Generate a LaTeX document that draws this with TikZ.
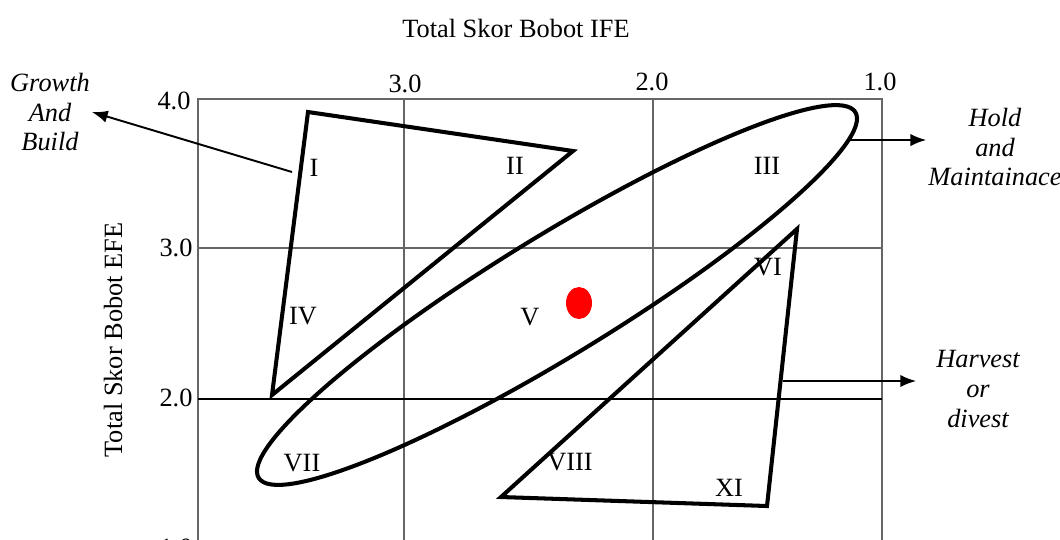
\documentclass[tikz,border=0pt]{standalone}
\usepackage{fontspec}
\setmainfont{Liberation Serif}
\usetikzlibrary{arrows.meta}

\begin{document}
\begin{tikzpicture}[x=0.02cm, y=-0.02cm,
  gridline/.style={gray!80!black, line width=0.9pt},
  zone/.style={line width=2.3pt, line join=miter},
  lbl/.style={font=\fontsize{15}{17}\selectfont},
  tag/.style={font=\fontsize{15}{17}\selectfont\itshape, align=center, inner sep=1pt},
  pointer/.style={line width=1.1pt, -{Latex[length=9pt,width=7pt]}}]

\useasboundingbox (0,0) rectangle (1060,539);

%--- GRID ---
\draw[gridline] (198,560) -- (198,99) -- (882,99) -- (882,560);
\draw[gridline] (404,99) -- (404,560);
\draw[gridline] (653,99) -- (653,560);
\draw[gridline] (198,248) -- (882,248);
\draw[line width=1.3pt] (198,399) -- (882,399);

%--- AXES ---
\node[lbl] (ife) at (516,28) {Total Skor Bobot IFE};
\node[lbl, rotate=90] (efe) at (113,340) {Total Skor Bobot EFE};
\node[lbl] (x3) at (405,84) {3.0};
\node[lbl] (x2) at (652,82) {2.0};
\node[lbl] (x1) at (880,82) {1.0};
\node[lbl] (y4) at (174,101) {4.0};
\node[lbl] (y3) at (176,248) {3.0};
\node[lbl] (y2) at (176,398) {2.0};
\node[lbl] (y1) at (176,548) {1.0};

%--- ZONES ---
% I, II, IV
\draw[zone] (308,112) -- (573,151) -- (272,395) -- cycle;
% III, V, VII
\draw[zone, rotate around={31.5:(557,295)}] (557,295) ellipse (7cm and 1.2cm);
% VI, VIII, XI
\draw[zone] (797,229) -- (767,506) -- (501,497) -- cycle;

\node[lbl] (zI) at (314,168) {I};
\node[lbl] (zII) at (515,166) {II};
\node[lbl] (zIII) at (767,166) {III};
\node[lbl] (zIV) at (303,316) {IV};
\node[lbl] (zV) at (530,317) {V};
\node[lbl] (zVI) at (768,267) {VI};
\node[lbl] (zVII) at (302,463) {VII};
\node[lbl] (zVIII) at (570,462) {VIII};
\node[lbl] (zXI) at (729,488) {XI};

% position of the firm
\fill[red] (579,303) ellipse (0.26cm and 0.32cm);

%--- STRATEGY POINTERS ---
\node[tag] (growth) at (50,112) {Growth\\And\\Build};
\node[tag] (hold) at (995,147) {Hold\\and\\Maintainace};
\node[tag] (harvest) at (978,389) {Harvest\\or\\divest};

\coordinate (growthfrom) at (292,172);
\coordinate (holdfrom) at (850,140);
\coordinate (harvestfrom) at (783,381);

\draw[pointer] (growthfrom) -- (growth.east);
\draw[pointer] (holdfrom) -- (holdfrom -| hold.west);
\draw[pointer, shorten >=0.36cm] (harvestfrom) -- (harvestfrom -| harvest.west);

\end{tikzpicture}
\end{document}
